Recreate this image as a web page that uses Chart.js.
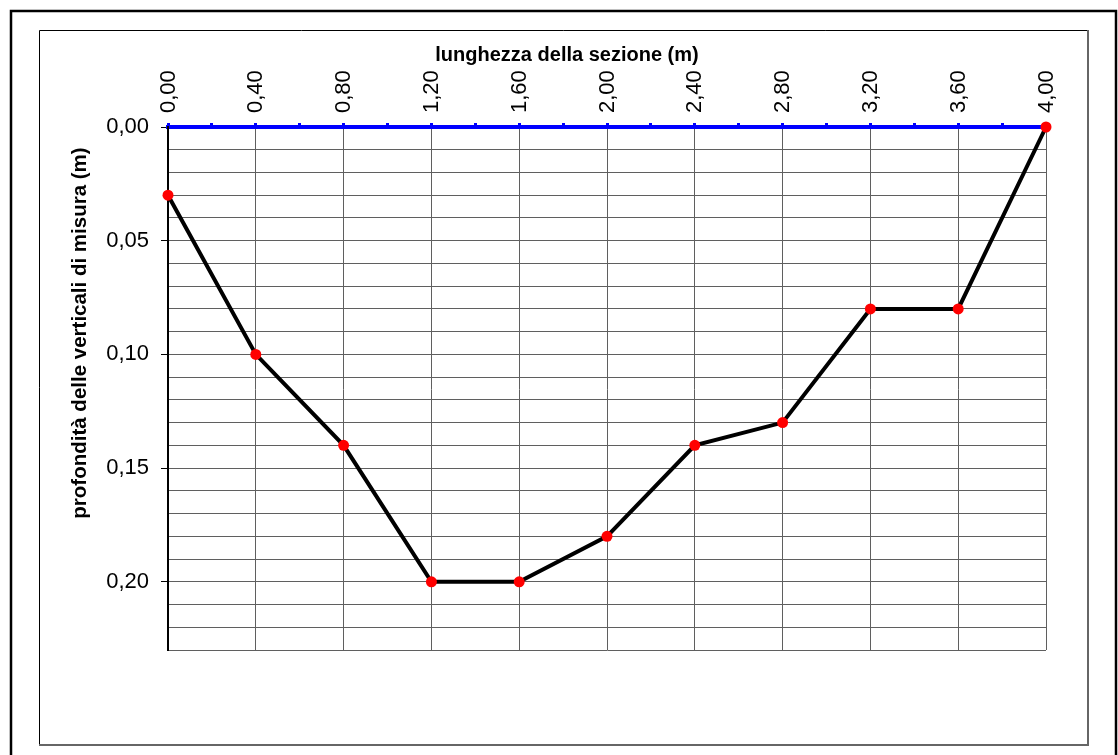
<!DOCTYPE html>
<html>
<head>
<meta charset="utf-8">
<script src="https://cdn.jsdelivr.net/npm/chart.js@4.4.1/dist/chart.umd.min.js"></script>
<style>
  html, body { margin: 0; padding: 0; background: #fff; }
  #wrap { width: 1118px; height: 755px; position: relative; }
</style>
</head>
<body>
<div id="wrap"><canvas id="c" width="1118" height="755"></canvas></div>
<script>
// Data
const distanze = [0.00, 0.40, 0.80, 1.20, 1.60, 2.00, 2.40, 2.80, 3.20, 3.60, 4.00];
const profondita = [0.03, 0.10, 0.14, 0.20, 0.20, 0.18, 0.14, 0.13, 0.08, 0.08, 0.00];
const titoloX = 'lunghezza della sezione (m)';
const titoloY = 'profondità delle verticali di misura (m)';
const xMin = 0, xMax = 4, xStep = 0.2, xLabelStep = 0.4;
const yMin = 0, yMax = 0.23, yStep = 0.01, yLabelStep = 0.05;

const FONT = '"Liberation Sans", Arial, sans-serif';
const fmt = v => v.toFixed(2).replace('.', ',');
const isMultiple = (v, step) => Math.abs(Math.round(v / step) - v / step) < 1e-6;

const framePlugin = {
  id: 'frames',
  beforeDraw(chart) {
    const ctx = chart.ctx;
    ctx.save();
    ctx.fillStyle = '#fff';
    ctx.fillRect(0, 0, chart.width, chart.height);
    // outer frame
    ctx.strokeStyle = '#000';
    ctx.lineWidth = 2.5;
    ctx.strokeRect(11, 11, 1105, 760);
    // inner frame: black top/left, grey bottom/right
    ctx.lineWidth = 1;
    ctx.beginPath();
    ctx.moveTo(39.5, 745); ctx.lineTo(39.5, 30.5); ctx.lineTo(1088, 30.5);
    ctx.stroke();
    ctx.strokeStyle = '#666';
    ctx.lineWidth = 2;
    ctx.beginPath();
    ctx.moveTo(1088, 30); ctx.lineTo(1088, 745); ctx.lineTo(39, 745);
    ctx.stroke();
    ctx.restore();
  },
  afterDraw(chart) {
    const ctx = chart.ctx;
    ctx.save();
    ctx.fillStyle = '#000';
    ctx.font = 'bold 20px ' + FONT;
    ctx.textAlign = 'center';
    ctx.textBaseline = 'middle';
    ctx.fillText(titoloX, 567, 55);
    ctx.translate(80, 333);
    ctx.rotate(-Math.PI / 2);
    ctx.font = 'bold 20.5px ' + FONT;
    ctx.fillText(titoloY, 0, 0);
    ctx.restore();
  }
};

new Chart(document.getElementById('c'), {
  type: 'line',
  data: {
    datasets: [{
      label: 'profondità',
      data: distanze.map((x, i) => ({ x, y: profondita[i] })),
      borderColor: '#000',
      borderWidth: 4,
      pointBackgroundColor: '#ff0000',
      pointBorderWidth: 0,
      pointRadius: 5.5,
      tension: 0,
      clip: false
    }]
  },
  options: {
    responsive: false,
    animation: false,
    events: [],
    layout: { padding: { left: 39, top: 30, right: 72, bottom: 105 } },
    plugins: { legend: { display: false }, tooltip: { enabled: false } },
    scales: {
      x: {
        type: 'linear',
        position: 'top',
        min: xMin, max: xMax,
        afterFit: s => { s.height = 97; },
        afterBuildTicks: s => {
          const t = [];
          for (let v = xMin; v <= xMax + 1e-9; v += xStep) t.push({ value: Math.round(v * 100) / 100 });
          s.ticks = t;
        },
        ticks: {
          autoSkip: false,
          maxRotation: 90, minRotation: 90,
          padding: 10,
          labelOffset: 27,
          color: '#000',
          font: { family: FONT, size: 22 },
          callback: v => isMultiple(v, xLabelStep) ? fmt(v) : ''
        },
        grid: {
          color: c => isMultiple(c.tick.value, xLabelStep) ? '#5f5f5f' : 'rgba(0,0,0,0)',
          lineWidth: 1,
          drawTicks: true,
          tickLength: 4,
          tickWidth: 3,
          tickColor: '#0000ff'
        },
        border: { color: '#0000ff', width: 4 },
        title: { display: false }
      },
      y: {
        type: 'linear',
        position: 'left',
        reverse: true,
        min: yMin, max: yMax,
        afterFit: s => { s.width = 129; },
        afterBuildTicks: s => {
          const t = [];
          for (let i = 0; i <= Math.round((yMax - yMin) / yStep); i++) t.push({ value: Math.round((yMin + i * yStep) * 100) / 100 });
          s.ticks = t;
        },
        ticks: {
          autoSkip: false,
          padding: 12,
          color: '#000',
          font: { family: FONT, size: 22 },
          callback: v => isMultiple(v, yLabelStep) ? fmt(v) : ''
        },
        grid: {
          color: '#5f5f5f',
          lineWidth: 1,
          drawTicks: true,
          tickLength: 7,
          tickColor: c => isMultiple(c.tick.value, yLabelStep) ? '#000' : 'rgba(0,0,0,0)'
        },
        border: { color: '#000', width: 2 },
        title: { display: false }
      }
    }
  },
  plugins: [framePlugin]
});
</script>
</body>
</html>
